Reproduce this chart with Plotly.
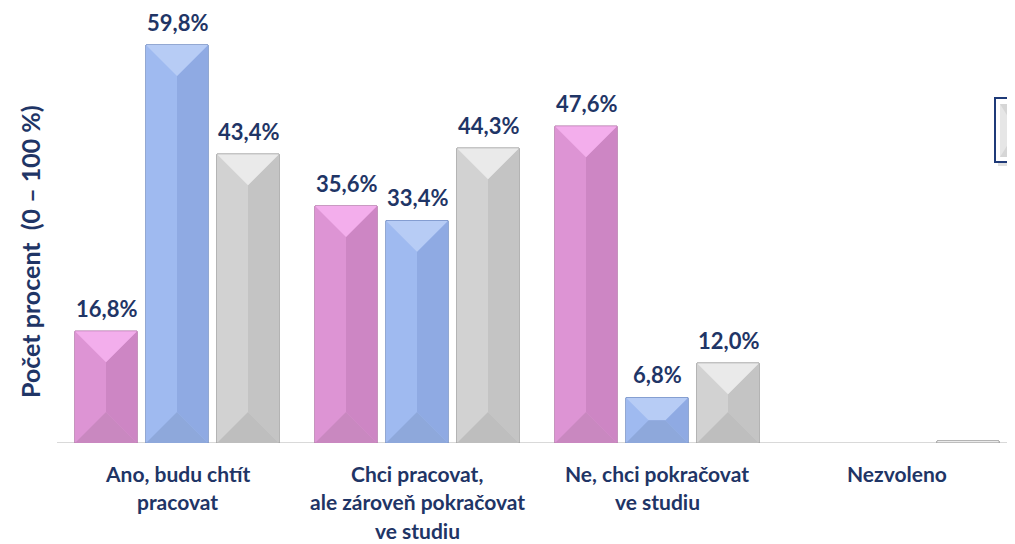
import plotly.graph_objects as go

# ---- data ----
categories = ["Ano, budu chtít\npracovat",
              "Chci pracovat,\nale zároveň pokračovat\nve studiu",
              "Ne, chci pokračovat\nve studiu",
              "Nezvoleno"]
pink_values = [16.8, 35.6, 47.6, 0.0]
blue_values = [59.8, 33.4, 6.8, 0.0]
gray_values = [43.4, 44.3, 12.0, 0.3]
value_labels_pink = ["16,8%", "35,6%", "47,6%", ""]
value_labels_blue = ["59,8%", "33,4%", "6,8%", ""]
value_labels_gray = ["43,4%", "44,3%", "12,0%", ""]
y_title = "Počet procent  (0 – 100 %)"

# ---- layout constants (page has an 8px body margin) ----
OFF = 8
W, H = 1015 - OFF, 544 - OFF
ML, MR, MT, MB = 57 - OFF, 0, 0, 101
plot_w = W - ML - MR
plot_h = H - MT - MB
px_per_x = 240.0
x_range = [-0.5, -0.5 + plot_w / px_per_x]
px_per_y = 398 / 59.8
y_max = plot_h / px_per_y
y_range = [0, y_max]
offset = 71 / px_per_x
bar_w = 62 / px_per_x

navy = "#1F3566"
FONT = "Lato"

series = [
    dict(vals=pink_values, labels=value_labels_pink, off=-offset,
         top="#F3AEEC", left="#DD94D4", right="#CD86C4", bottom="#C988C0", line="#B270A8"),
    dict(vals=blue_values, labels=value_labels_blue, off=0.0,
         top="#B7CCF5", left="#9FBAF0", right="#8FAAE3", bottom="#8EA8DB", line="#6F8BC2"),
    dict(vals=gray_values, labels=value_labels_gray, off=offset,
         top="#EAEAEA", left="#D2D2D2", right="#C4C4C4", bottom="#BEBEBE", line="#9A9A9A"),
]

fig = go.Figure()
annotations = []

def line_widths(vals):
    return [1 if v > 0 else 0 for v in vals]

for s in series:
    xs = [i + s["off"] for i in range(len(categories))]
    fig.add_trace(go.Bar(x=xs, y=s["vals"], width=bar_w,
                         marker=dict(color=s["left"], line=dict(color=s["line"], width=line_widths(s["vals"]))),
                         showlegend=False, hoverinfo="skip"))
    polys = {"top": ([], []), "bottom": ([], []), "left": ([], []), "right": ([], [])}
    half_px = bar_w * px_per_x / 2
    for x, v in zip(xs, s["vals"]):
        if v <= 0:
            continue
        h_px = v * px_per_y
        d_px = min(half_px, h_px / 2)
        dy = d_px / px_per_y
        e = d_px / px_per_x
        x0, x1 = x - bar_w / 2, x + bar_w / 2
        xl, xr = x0 + e, x1 - e
        pts = {
            "top": [(x0, v), (x1, v), (xr, v - dy), (xl, v - dy), (x0, v)],
            "bottom": [(x0, 0), (x1, 0), (xr, dy), (xl, dy), (x0, 0)],
            "left": [(x0, v), (xl, v - dy), (xl, dy), (x0, 0), (x0, v)],
            "right": [(x1, v), (xr, v - dy), (xr, dy), (x1, 0), (x1, v)],
        }
        for k, p in pts.items():
            polys[k][0].extend([q[0] for q in p] + [None])
            polys[k][1].extend([q[1] for q in p] + [None])
    for k in ["left", "right", "top", "bottom"]:
        fig.add_trace(go.Scatter(x=polys[k][0], y=polys[k][1], mode="lines",
                                 fill="toself", fillcolor=s[k],
                                 line=dict(width=0), showlegend=False, hoverinfo="skip"))
    fig.add_trace(go.Bar(x=xs, y=s["vals"], width=bar_w,
                         marker=dict(color="rgba(0,0,0,0)",
                                     line=dict(color=s["line"], width=line_widths(s["vals"]))),
                         showlegend=False, hoverinfo="skip"))
    for x, v, lab in zip(xs, s["vals"], s["labels"]):
        if lab:
            annotations.append(dict(x=x, y=v, xref="x", yref="y", text=f"<b>{lab}</b>",
                                    showarrow=False, yanchor="middle", yshift=23,
                                    font=dict(family=FONT, size=22, color=navy)))

# category labels
for i, cat in enumerate(categories):
    for k, line in enumerate(cat.split("\n")):
        annotations.append(dict(x=i, y=0, xref="x", yref="y", text=f"<b>{line}</b>",
                                showarrow=False, yanchor="middle", yshift=-30 - 28.5 * k,
                                borderpad=0,
                                font=dict(family=FONT, size=21, color=navy)))

# y title
annotations.append(dict(x=(30 - OFF - ML) / plot_w, y=(H - MB - (252 - OFF)) / plot_h,
                        xref="paper", yref="paper",
                        text=f"<b>{y_title}</b>", textangle=-90, showarrow=False,
                        xanchor="center", yanchor="middle",
                        font=dict(family=FONT, size=25, color=navy)))

def px_x(p):
    return (p - OFF - ML) / plot_w

def px_y(p):
    return (H - MB - (p - OFF)) / plot_h

shapes = [
    dict(type="line", xref="paper", yref="y", x0=0, x1=1, y0=0, y1=0,
         line=dict(color="#D9D9D9", width=2), layer="below"),
    # legend box (partly outside the view)
    dict(type="rect", xref="paper", yref="paper", x0=px_x(998), x1=px_x(1040),
         y0=px_y(166), y1=px_y(101), fillcolor="rgba(0,0,0,0.12)", line=dict(width=0)),
    dict(type="rect", xref="paper", yref="paper", x0=px_x(995), x1=px_x(1040),
         y0=px_y(162), y1=px_y(98), fillcolor="white", line=dict(color="#1F3A78", width=2)),
    dict(type="rect", xref="paper", yref="paper", x0=px_x(1000), x1=px_x(1040),
         y0=px_y(157), y1=px_y(104), fillcolor="#D6D6D6", line=dict(width=0)),
    dict(type="path", xref="paper", yref="paper",
         path=f"M {px_x(1000)},{px_y(104)} L {px_x(1015)},{px_y(128)} L {px_x(1015)},{px_y(133)} L {px_x(1000)},{px_y(157)} Z",
         fillcolor="#E6E6E6", line=dict(width=0)),
]

fig.update_layout(
    width=W, height=H,
    margin=dict(l=ML, r=MR, t=MT, b=MB, pad=0),
    paper_bgcolor="white", plot_bgcolor="white",
    barmode="overlay",
    xaxis=dict(range=x_range, showgrid=False, zeroline=False, showticklabels=False,
               showline=False, ticks=""),
    yaxis=dict(range=y_range, showgrid=False, zeroline=False, showticklabels=False,
               showline=False, ticks=""),
    annotations=annotations,
    shapes=shapes,
    showlegend=False,
)

fig.write_html("out.html")
